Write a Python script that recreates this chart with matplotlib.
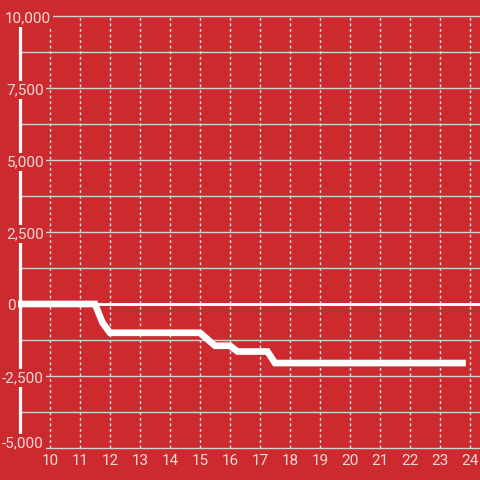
import matplotlib
matplotlib.use("Agg")
import matplotlib.pyplot as plt

# data (hour of day, value)
hours = [9.0, 11.5, 11.75, 12.0, 15.0, 15.5, 16.0, 16.25, 17.25, 17.5, 23.75]
values = [0, 0, -650, -1000, -1000, -1450, -1450, -1650, -1650, -2050, -2050]

x_ticks = list(range(10, 25))
y_ticks = [-5000, -2500, 0, 2500, 5000, 7500, 10000]
y_tick_labels = ["-5,000", "-2,500", "0", "2,500", "5,000", "7,500", "10,000"]
y_grid = [-5000 + 1250 * i for i in range(13)]

BG = "#cc2a2f"
TXT = "#f3d8d8"

plt.rcParams["font.family"] = ["Roboto", "DejaVu Sans"]

fig = plt.figure(figsize=(4.8, 4.8), dpi=100, facecolor=BG)
ax = fig.add_axes([20 / 480, 32 / 480, 460 / 480, 432 / 480])
ax.set_facecolor(BG)
ax.set_xlim(9, 9 + 460 / 30)
ax.set_ylim(-5000, 10000)

for s in ax.spines.values():
    s.set_visible(False)

# horizontal grid
for g in y_grid:
    ax.axhline(g, color="#d2d2d2", lw=1.0, zorder=1.1, clip_on=False)

# vertical dotted grid
ax.set_xticks(x_ticks)
ax.grid(axis="x", color="#e6e6e6", lw=1.0, linestyle=(0, (2, 2)))
ax.xaxis.set_zorder(1.0)
ax.tick_params(axis="x", length=0, pad=4, labelsize=11, labelcolor=TXT)

# left axis line and zero line
ax.axvline(9, color="white", lw=2.3, zorder=1.3, clip_on=False)
ax.axhline(0, color="white", lw=2.1, zorder=1.4, clip_on=False)

# data line
ax.plot(hours, values, color="white", lw=4.8, solid_capstyle="projecting",
        solid_joinstyle="miter", zorder=2, clip_on=False)

# y labels as text with red background boxes
ax.set_yticks([])
for v, lbl in zip(y_ticks, y_tick_labels):
    if lbl == "10,000":
        dx, ha = -15, "left"
    elif lbl == "0":
        dx, ha = -13, "left"
    else:
        dx, ha = 24, "right"
    dy = 1 if v == -5000 else -6
    ax.annotate(lbl, xy=(0, v), xycoords=ax.get_yaxis_transform(),
                xytext=(dx, dy), textcoords="offset pixels",
                ha=ha, va="baseline", fontsize=11, color=TXT,
                bbox=dict(facecolor=BG, edgecolor="none", pad=1.5),
                zorder=3, annotation_clip=False)

fig.savefig("out.png", dpi=100, facecolor=BG)
